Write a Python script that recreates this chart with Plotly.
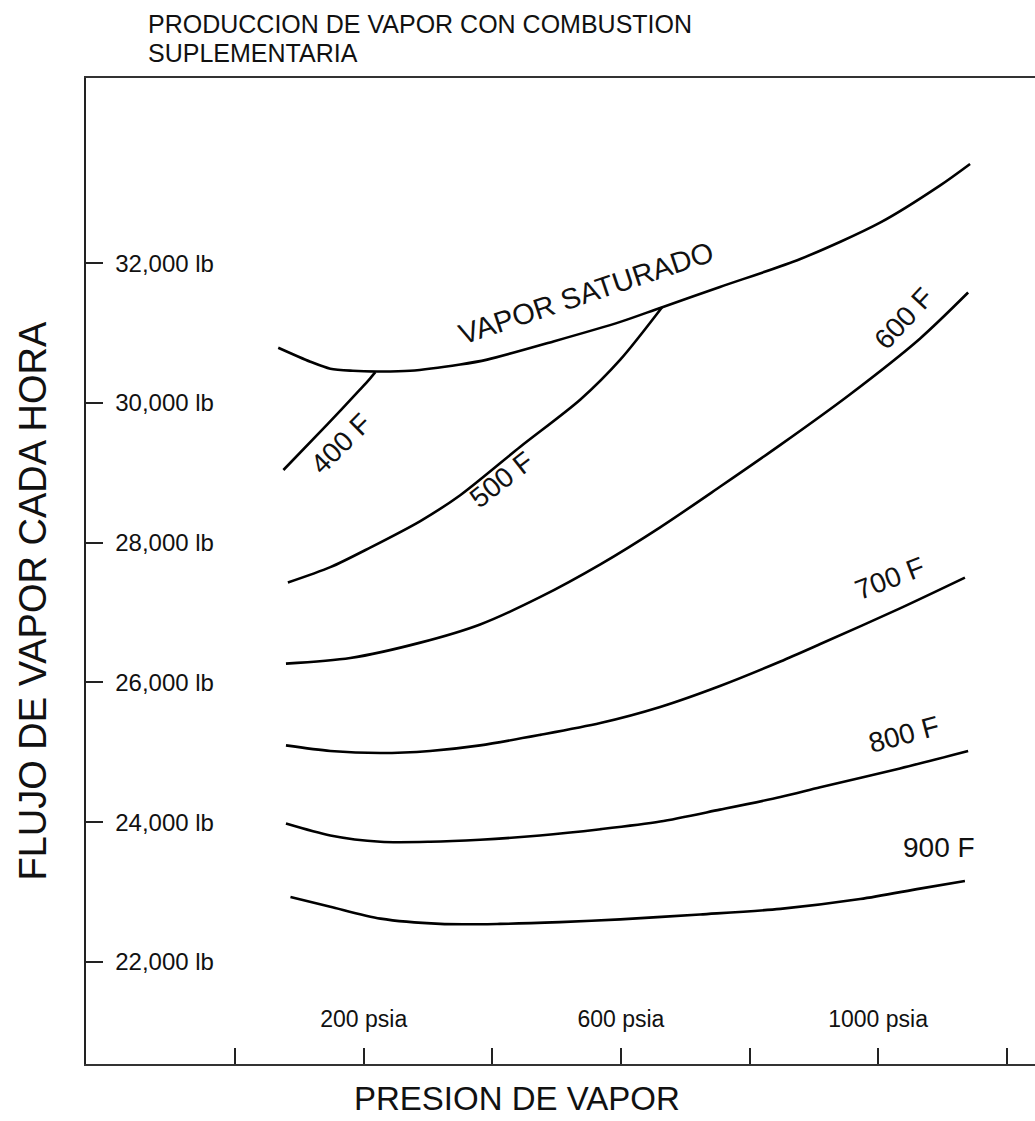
import plotly.graph_objects as go

# Steam production curves (pressure in psia, steam flow in lb per hour)
sat_p = [67, 117, 148, 183, 221, 272, 350, 392, 495, 599, 661, 754, 879, 1003, 1096, 1143]
sat_w = [30790, 30590, 30490, 30460, 30450, 30460, 30550, 30620, 30880, 31160, 31360, 31660, 32060, 32580, 33110, 33420]

t400_p = [75, 143, 194, 208, 218]
t400_w = [29040, 29690, 30190, 30330, 30440]

t500_p = [82, 148, 210, 288, 350, 443, 537, 599, 664]
t500_w = [27430, 27650, 27930, 28310, 28680, 29370, 30050, 30620, 31370]

t600_p = [79, 179, 288, 381, 474, 568, 661, 754, 848, 953, 1065, 1140]
t600_w = [26270, 26350, 26570, 26830, 27220, 27690, 28220, 28800, 29400, 30100, 30920, 31580]

t700_p = [79, 148, 226, 303, 381, 474, 568, 661, 754, 848, 910, 1034, 1135]
t700_w = [25100, 25020, 24990, 25020, 25100, 25250, 25420, 25650, 25950, 26300, 26550, 27060, 27500]

t800_p = [79, 148, 226, 303, 381, 474, 568, 661, 754, 848, 910, 1034, 1140]
t800_w = [23980, 23810, 23720, 23720, 23750, 23810, 23900, 24010, 24180, 24360, 24500, 24770, 25020]

t900_p = [86, 148, 226, 319, 412, 505, 599, 723, 848, 972, 1065, 1135]
t900_w = [22930, 22790, 22620, 22545, 22545, 22570, 22610, 22680, 22760, 22900, 23050, 23160]

curve_names = ["VAPOR SATURADO", "400 F", "500 F", "600 F", "700 F", "800 F", "900 F"]

y_tick_vals = [22000, 24000, 26000, 28000, 30000, 32000]
y_tick_text = ["22,000 lb", "24,000 lb", "26,000 lb", "28,000 lb", "30,000 lb", "32,000 lb"]
x_tick_vals = [200, 600, 1000]
x_tick_text = ["200 psia", "600 psia", "1000 psia"]
x_minor_vals = [0, 400, 800, 1200]

FONT = "Liberation Sans, Arial, Helvetica, sans-serif"
INK = "#111111"

fig = go.Figure()
series = [(sat_p, sat_w), (t400_p, t400_w), (t500_p, t500_w), (t600_p, t600_w),
          (t700_p, t700_w), (t800_p, t800_w), (t900_p, t900_w)]
for name, (px, wy) in zip(curve_names, series):
    fig.add_trace(go.Scatter(
        x=px, y=wy, mode="lines", name=name, showlegend=False,
        line=dict(color="black", width=2.6, shape="spline", smoothing=0.8),
        hoverinfo="skip",
    ))

# curve labels: (text, x, y, angle, size)
label_spots = [
    ("VAPOR SATURADO", 546, 31570, -18.5, 29),
    ("400 F", 165, 29420, -45, 28),
    ("500 F", 415, 28900, -38, 28),
    ("600 F", 1040, 31210, -47, 28),
    ("700 F", 1018, 27490, -21, 28),
    ("800 F", 1040, 25260, -15, 28),
    ("900 F", 1094, 23640, 0, 28),
]
for txt, ax, ay, ang, sz in label_spots:
    fig.add_annotation(x=ax, y=ay, xref="x", yref="y", text=txt, showarrow=False,
                       textangle=ang, font=dict(family=FONT, size=sz, color=INK))

# chart heading, two lines
for line_text, ypix in [("PRODUCCION DE VAPOR CON COMBUSTION", 24),
                        ("SUPLEMENTARIA", 53)]:
    fig.add_annotation(x=(146 - 86) / 949, y=(1064 - ypix) / 986,
                       xref="paper", yref="paper", xanchor="left", yanchor="middle",
                       text=line_text, showarrow=False,
                       font=dict(family=FONT, size=25, color=INK))

# axis titles
fig.add_annotation(x=(33 - 86) / 949, y=0.47, xref="paper", yref="paper",
                   xanchor="center", yanchor="middle",
                   text="FLUJO DE VAPOR CADA HORA", showarrow=False, textangle=-90,
                   font=dict(family=FONT, size=38, color=INK))
fig.add_annotation(x=(517 - 86) / 949, y=-(1119 - 1064) / 986, xref="paper", yref="paper",
                   xanchor="center", yanchor="bottom",
                   text="PRESION DE VAPOR", showarrow=False,
                   font=dict(family=FONT, size=33, color=INK))

fig.update_layout(
    width=1035, height=1121,
    margin=dict(l=86, r=0, t=78, b=57),
    paper_bgcolor="white", plot_bgcolor="white",
    xaxis=dict(range=[-232, 1244], showgrid=False, zeroline=False,
               showline=True, linecolor="#333333", linewidth=2, mirror=True,
               ticks="inside", ticklen=16, tickwidth=1.5, tickcolor="#222222",
               tickvals=x_tick_vals, ticktext=x_tick_text,
               ticklabelposition="inside", ticklabelstandoff=18,
               minor=dict(tickvals=x_minor_vals, ticks="inside", ticklen=16,
                          tickwidth=1.5, tickcolor="#222222"),
               tickfont=dict(family=FONT, size=23, color=INK)),
    yaxis=dict(range=[20540, 34650], showgrid=False, zeroline=False,
               showline=True, linecolor="#222222", linewidth=2, mirror=False,
               ticks="inside", ticklen=17, tickwidth=1.5, tickcolor="#222222",
               tickvals=y_tick_vals, ticktext=y_tick_text,
               ticklabelposition="inside", ticklabelstandoff=14,
               tickfont=dict(family=FONT, size=24, color=INK)),
)

fig.write_html("out.html")
